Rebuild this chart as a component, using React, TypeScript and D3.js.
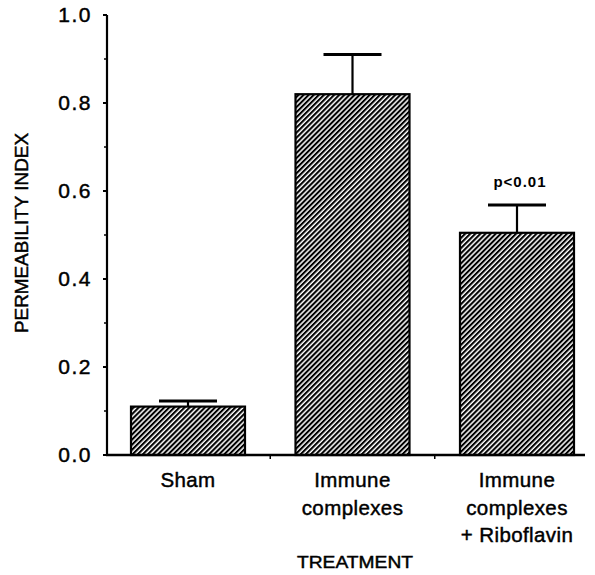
import React from "react";
import * as d3 from "d3";

const categories = ["Sham", "Immune complexes", "Immune complexes + Riboflavin"];
const categoryLines = [["Sham"], ["Immune", "complexes"], ["Immune", "complexes", "+ Riboflavin"]];
const means = [0.11, 0.82, 0.505];
const errors = [0.013, 0.09, 0.063];
const annotations = ["", "", "p<0.01"];
const yTicks = [0.0, 0.2, 0.4, 0.6, 0.8, 1.0];
const yMinorTicks = [0.1, 0.3, 0.5, 0.7, 0.9];

export default function App() {
  const W = 595, H = 575;
  const axisX = 107;
  const axisRight = 585;
  const y = d3.scaleLinear().domain([0, 1]).range([455, 15]);
  const x = d3.scaleBand<string>()
    .domain(categories)
    .range([105.75, 599.25])
    .paddingInner(0.307)
    .paddingOuter(0.1535);
  const bw = x.bandwidth();
  const step = x.step();
  const font = "Liberation Sans, Arial, Helvetica, sans-serif";
  const capHalf = 29;
  const heavy = { stroke: "#000", strokeWidth: 0.45 };

  return (
    <svg width={W} height={H} style={{ position: "absolute", left: 0, top: 0, background: "#fff" }}>
      <defs>
        <pattern id="hatch" width={3.6} height={10} patternUnits="userSpaceOnUse" patternTransform="rotate(45)">
          <rect x={0} y={0} width={2.1} height={10} fill="#000" />
        </pattern>
      </defs>
      <rect x={0} y={0} width={W} height={H} fill="#fff" />

      {/* bars */}
      {categories.map((c, i) => (
        <rect key={c} x={x(c)} y={y(means[i])} width={bw} height={y(0) - y(means[i])}
          fill="url(#hatch)" stroke="#000" strokeWidth={2.2} />
      ))}

      {/* error bars */}
      {categories.map((c, i) => {
        const cx = (x(c) as number) + bw / 2;
        return (
          <g key={c + "err"} stroke="#000">
            <line x1={cx} x2={cx} y1={y(means[i])} y2={y(means[i] + errors[i])} strokeWidth={2.2} />
            <line x1={cx - capHalf} x2={cx + capHalf} y1={y(means[i] + errors[i])} y2={y(means[i] + errors[i])} strokeWidth={3} />
          </g>
        );
      })}

      {/* annotations */}
      {categories.map((c, i) => annotations[i] ? (
        <text key={c + "ann"} x={(x(c) as number) + bw / 2 + 3} y={187} textAnchor="middle"
          fontFamily={font} fontWeight="bold" fontSize={15} letterSpacing={1}>{annotations[i]}</text>
      ) : null)}

      {/* y axis */}
      <line x1={axisX} x2={axisX} y1={y(1)} y2={y(0) + 1} stroke="#000" strokeWidth={2.2} />
      {yTicks.map(t => (
        <g key={"t" + t}>
          <line x1={axisX - 4} x2={axisX} y1={y(t)} y2={y(t)} stroke="#000" strokeWidth={2} />
          <text x={92} y={y(t) + 7} textAnchor="end" fontFamily={font} fontSize={21} letterSpacing={1.5} {...heavy}>{t.toFixed(1)}</text>
        </g>
      ))}
      {yMinorTicks.map(t => (
        <line key={"m" + t} x1={axisX - 3} x2={axisX} y1={y(t)} y2={y(t)} stroke="#000" strokeWidth={1.5} />
      ))}

      {/* x axis */}
      <line x1={axisX - 1} x2={axisRight} y1={y(0)} y2={y(0)} stroke="#000" strokeWidth={2.5} />
      {categories.slice(1).map(c => (
        <line key={c + "sep"} x1={(x(c) as number) - (step - bw) / 2} x2={(x(c) as number) - (step - bw) / 2}
          y1={y(0)} y2={y(0) + 4} stroke="#000" strokeWidth={1.5} />
      ))}

      {/* category labels */}
      {categories.map((c, i) => (
        <text key={c + "lbl"} textAnchor="middle" fontFamily={font} fontSize={20.5} letterSpacing={0.4} {...heavy}>
          {categoryLines[i].map((ln, j) => (
            <tspan key={j} x={(x(c) as number) + bw / 2} y={487 + j * 27.5}>{ln}</tspan>
          ))}
        </text>
      ))}

      {/* axis titles */}
      <text x={355} y={568} textAnchor="middle" fontFamily={font} fontSize={17}
        textLength={116} lengthAdjust="spacingAndGlyphs" {...heavy}>TREATMENT</text>
      <text transform={`translate(28,233) rotate(-90)`} textAnchor="middle" fontFamily={font} fontSize={18}
        textLength={200} lengthAdjust="spacingAndGlyphs" {...heavy}>PERMEABILITY INDEX</text>
    </svg>
  );
}
